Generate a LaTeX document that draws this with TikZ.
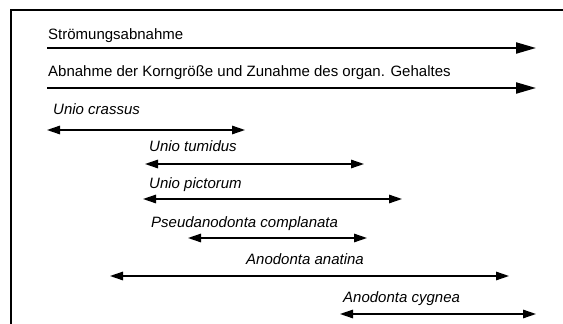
\documentclass[tikz,border=0pt]{standalone}
\usepackage{fontspec}
\setmainfont{Liberation Sans}
\usetikzlibrary{arrows.meta}

\begin{document}
\begin{tikzpicture}[x=1pt, y=-1pt,
  lbl/.style={anchor=mid west, inner sep=0pt, font=\fontsize{15}{18}\selectfont},
  taxon/.style={lbl, font=\fontsize{15}{18}\selectfont\itshape},
  trend/.style={-{Triangle[length=20pt, width=11pt]}, line width=2.1pt},
  spanline/.style={{Triangle[length=13pt, width=8.5pt]}-{Triangle[length=13pt, width=8.5pt]}, line width=1.4pt}]
\useasboundingbox (0,0) rectangle (563,324);
\draw[line width=2pt] (11,324) -- (11,10) -- (563,10);

% trends
\node (flow) at (48, 37) [lbl] {Strömungsabnahme};
\coordinate (flowL) at (47, 48);
\coordinate (flowR) at (536, 48);
\node (grain) at (48, 74) [lbl] {Abnahme der Korngröße und Zunahme des organ. Gehaltes};
\coordinate (grainL) at (47, 88);
\coordinate (grainR) at (536, 88);

% species
\node (crassus) at (53, 112) [taxon] {Unio crassus};
\coordinate (crassusL) at (47, 130);
\coordinate (crassusR) at (245, 130);
\node (tumidus) at (149, 149) [taxon] {Unio tumidus};
\coordinate (tumidusL) at (145, 164);
\coordinate (tumidusR) at (364, 164);
\node (pictorum) at (149, 186) [taxon] {Unio pictorum};
\coordinate (pictorumL) at (143, 199);
\coordinate (pictorumR) at (402, 199);
\node (complanata) at (151, 225) [taxon] {Pseudanodonta complanata};
\coordinate (complanataL) at (188, 238);
\coordinate (complanataR) at (367, 238);
\node (anatina) at (246, 262) [taxon] {Anodonta anatina};
\coordinate (anatinaL) at (110, 276);
\coordinate (anatinaR) at (509, 276);
\node (cygnea) at (343, 300) [taxon] {Anodonta cygnea};
\coordinate (cygneaL) at (340, 314);
\coordinate (cygneaR) at (536, 314);

\draw[trend] (flowL) -- (flowR);
\draw[trend] (grainL) -- (grainR);
\draw[spanline] (crassusL) -- (crassusR);
\draw[spanline] (tumidusL) -- (tumidusR);
\draw[spanline] (pictorumL) -- (pictorumR);
\draw[spanline] (complanataL) -- (complanataR);
\draw[spanline] (anatinaL) -- (anatinaR);
\draw[spanline] (cygneaL) -- (cygneaR);
\end{tikzpicture}
\end{document}
